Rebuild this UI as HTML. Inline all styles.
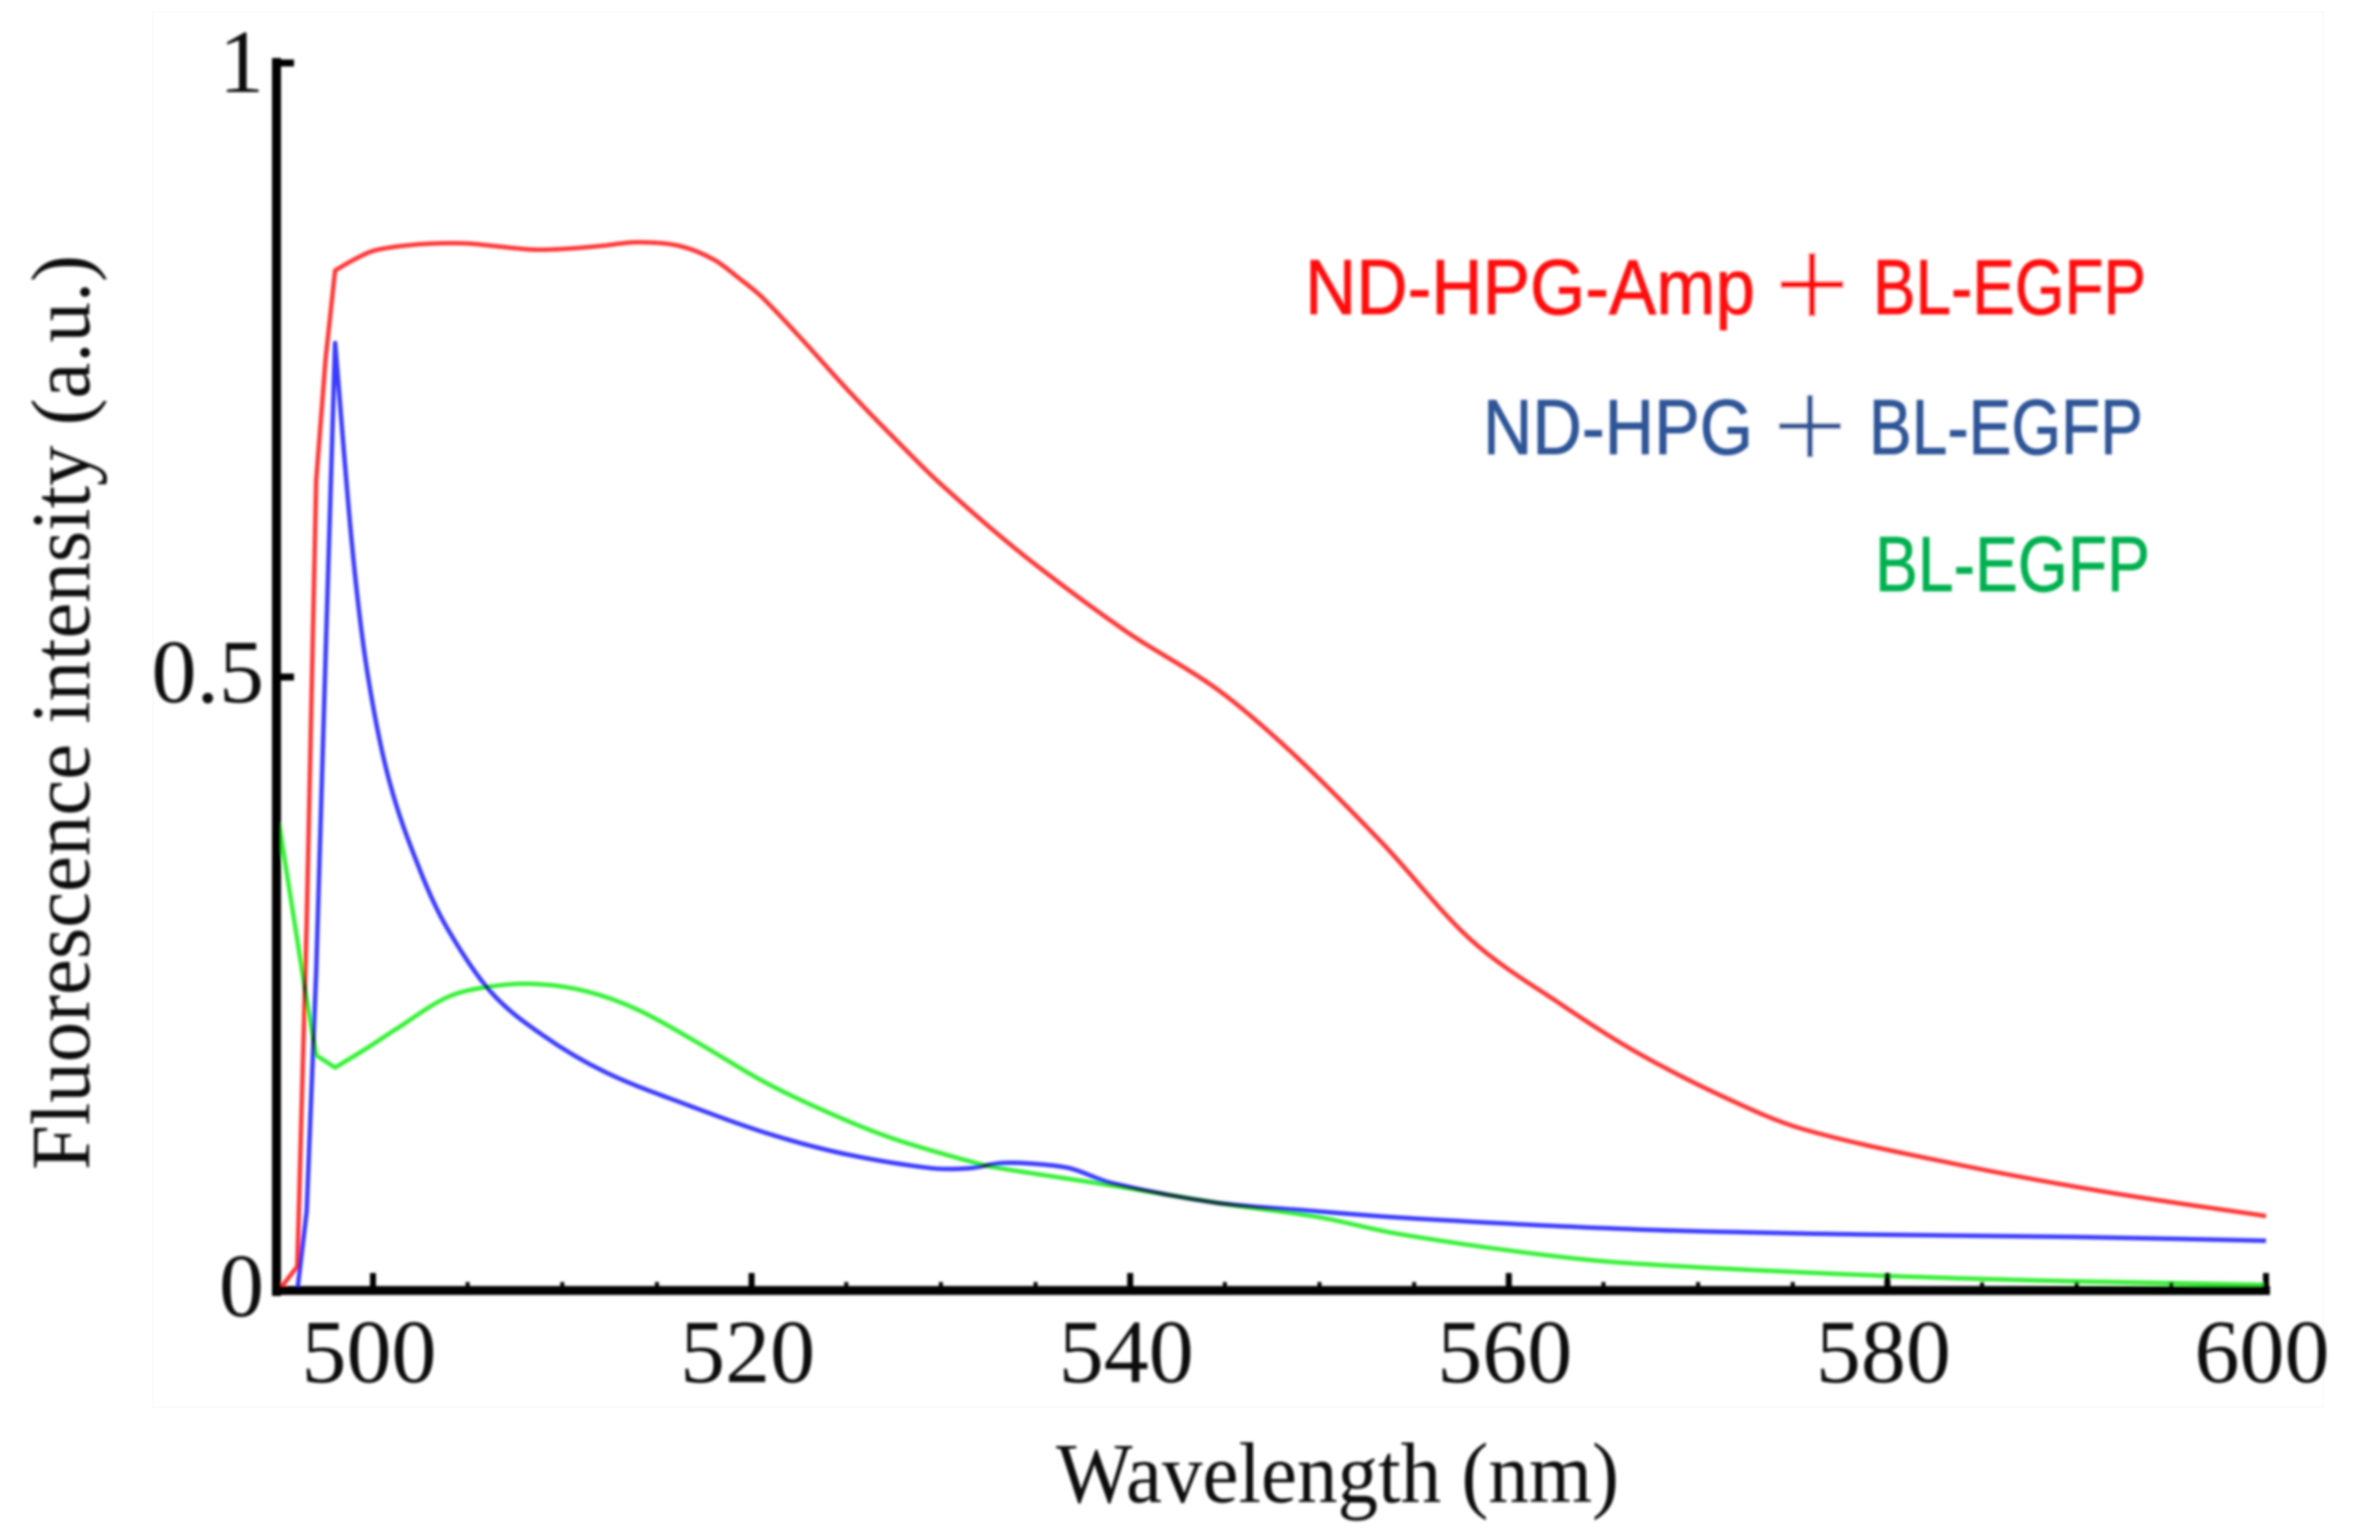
<!DOCTYPE html>
<html lang="en">
<head>
<meta charset="utf-8">
<title>Fluorescence intensity vs wavelength</title>
<style>
html,body{margin:0;padding:0;background:#fff;width:2355px;height:1531px;overflow:hidden}
svg{display:block}
.serif{font-family:"Liberation Serif",serif;fill:#111}
.leg{font-family:"Liberation Sans",sans-serif;font-size:78px;stroke-width:.8px}
.plus{font-family:"Liberation Sans",sans-serif;font-size:135px;stroke:#fff;paint-order:fill}
.curve{fill:none;stroke-width:4.5;stroke-linejoin:round;stroke-linecap:butt;mix-blend-mode:multiply}
</style>
</head>
<body>
<svg id="chart" xmlns="http://www.w3.org/2000/svg" width="2355" height="1531" viewBox="0 0 2355 1531">
<defs>
<filter id="soft" x="-2%" y="-2%" width="104%" height="104%"><feGaussianBlur stdDeviation="1.25"/></filter>
</defs>
<rect x="0" y="0" width="2355" height="1531" fill="#ffffff"/>
<rect x="153" y="12" width="2170" height="1395" fill="#ffffff" stroke="#fbfbfb" stroke-width="2"/>
<g id="plot" filter="url(#soft)">
<g id="axes"></g>
<g id="series"></g>
<text class="serif" font-size="86" x="1056" y="1502" textLength="563" lengthAdjust="spacingAndGlyphs">Wavelength (nm)</text>
<text class="serif" font-size="84" transform="translate(89 1170) rotate(-90)" x="0" y="0" textLength="915" lengthAdjust="spacingAndGlyphs">Fluorescence intensity (a.u.)</text>
<g>
<g fill="#ff1010" stroke="#ff1010">
<text class="leg" x="1305" y="314" textLength="450" lengthAdjust="spacingAndGlyphs">ND-HPG-Amp</text>
<text class="plus" x="1772.6" y="329.5" stroke-width="3" style="stroke-width:3px">+</text>
<text class="leg" x="1873" y="314" textLength="273" lengthAdjust="spacingAndGlyphs">BL-EGFP</text>
</g>
<g fill="#2f5597" stroke="#2f5597">
<text class="leg" x="1483" y="454" textLength="270" lengthAdjust="spacingAndGlyphs">ND-HPG</text>
<text class="plus" x="1770.6" y="471" style="stroke-width:4px">+</text>
<text class="leg" x="1869" y="454" textLength="274" lengthAdjust="spacingAndGlyphs">BL-EGFP</text>
</g>
<g fill="#00b050" stroke="#00b050">
<text class="leg" x="1875" y="591" textLength="275" lengthAdjust="spacingAndGlyphs">BL-EGFP</text>
</g>
</g>
</g>
<script>
var xMajorTicks = [500, 520, 540, 560, 580, 600];
var xMinorTicks = [505, 510, 515, 525, 530, 535, 545, 550, 555, 565, 570, 575, 585, 590, 595];
var yTicks = [0.5, 1];
var yTickLabels = ["0", "0.5", "1"];
var yLabelValues = [0, 0.5, 1];

var redWavelengths = [495, 495.5, 496, 496.5, 497, 497.5, 498, 499, 500, 501.5, 503.2, 505, 507, 508.6, 510.5, 512, 514, 516.2, 518, 519.4, 520.5, 522.6, 525, 527.5, 530, 534.3, 539.8, 544.6, 548.5, 553.3, 558, 562.8, 566.8, 571.5, 575.5, 583.4, 591.4, 600];
var redValues = [0, 0.01, 0.02, 0.3, 0.66, 0.76, 0.831, 0.84, 0.847, 0.851, 0.853, 0.853, 0.85, 0.848, 0.849, 0.851, 0.854, 0.851, 0.84, 0.824, 0.81, 0.776, 0.735, 0.695, 0.657, 0.6, 0.537, 0.49, 0.439, 0.365, 0.286, 0.233, 0.194, 0.157, 0.132, 0.104, 0.081, 0.061];

var blueWavelengths = [495.9, 496, 496.5, 497, 497.5, 498, 498.9, 499.7, 500.85, 502.5, 503.9, 506.2, 508.9, 512.3, 516.7, 520.7, 524.8, 529.5, 531.5, 533.1, 534.5, 536.8, 539, 544.5, 549, 555, 567, 578.8, 590, 600];
var blueValues = [0, 0, 0.065, 0.26, 0.52, 0.772, 0.606, 0.504, 0.416, 0.342, 0.296, 0.244, 0.209, 0.178, 0.151, 0.129, 0.112, 0.1, 0.1, 0.104, 0.104, 0.1, 0.088, 0.072, 0.066, 0.059, 0.05, 0.046, 0.044, 0.041];

var greenWavelengths = [495, 496.5, 497, 498, 499.5, 501.2, 503.9, 506.2, 508.6, 511.3, 514, 517.4, 520.7, 524.1, 527.5, 531.9, 533.1, 539, 544.5, 550, 554, 560.5, 566, 578.8, 589.7, 600];
var greenValues = [0.384, 0.237, 0.192, 0.182, 0.196, 0.213, 0.239, 0.248, 0.25, 0.244, 0.229, 0.2, 0.17, 0.145, 0.124, 0.104, 0.1, 0.086, 0.072, 0.06, 0.047, 0.032, 0.023, 0.013, 0.008, 0.005];

var SVGNS = "http://www.w3.org/2000/svg";
function scaleX(w) { return 373 + (w - 500) * 18.93; }
function scaleY(v) { return 1291 - v * 1228; }

function svgEl(tag, parent) {
  var el = document.createElementNS(SVGNS, tag);
  parent.appendChild(el);
  return el;
}
function drawLine(parent, x1, y1, x2, y2, width) {
  var l = svgEl("line", parent);
  l.setAttribute("x1", x1);
  l.setAttribute("y1", y1);
  l.setAttribute("x2", x2);
  l.setAttribute("y2", y2);
  l.setAttribute("stroke", "#000");
  l.setAttribute("stroke-width", width);
  return l;
}
function drawText(parent, x, y, anchor, str) {
  var t = svgEl("text", parent);
  t.setAttribute("class", "serif");
  t.setAttribute("font-size", "90");
  t.setAttribute("x", x);
  t.setAttribute("y", y);
  t.setAttribute("text-anchor", anchor);
  t.textContent = str;
  return t;
}
/* straight segments below the sharp spectral-cutoff, smooth cubic segments above it */
function drawCurve(parent, xs, ys, color, sharpUntil) {
  var p = svgEl("path", parent);
  var px = xs.map(scaleX);
  var py = ys.map(scaleY);
  var slope = function (i) {
    if (i === 0 || i === px.length - 1) {
      var a = i === 0 ? 0 : i - 1;
      return (py[a + 1] - py[a]) / (px[a + 1] - px[a]);
    }
    return (py[i + 1] - py[i - 1]) / (px[i + 1] - px[i - 1]);
  };
  var d = "M" + px[0].toFixed(1) + " " + py[0].toFixed(1);
  for (var i = 0; i < px.length - 1; i++) {
    if (xs[i] < sharpUntil) {
      d += "L" + px[i + 1].toFixed(1) + " " + py[i + 1].toFixed(1);
    } else {
      var dx = (px[i + 1] - px[i]) / 3;
      var m0 = xs[i] === sharpUntil ? (py[i + 1] - py[i]) / (px[i + 1] - px[i]) : slope(i);
      var m1 = slope(i + 1);
      d += "C" + (px[i] + dx).toFixed(1) + " " + (py[i] + m0 * dx).toFixed(1) + " " +
        (px[i + 1] - dx).toFixed(1) + " " + (py[i + 1] - m1 * dx).toFixed(1) + " " +
        px[i + 1].toFixed(1) + " " + py[i + 1].toFixed(1);
    }
  }
  p.setAttribute("d", d);
  p.setAttribute("class", "curve");
  p.setAttribute("stroke", color);
  return p;
}

var axes = document.getElementById("axes");
var series = document.getElementById("series");

var yAxis = drawLine(axes, 276.5, scaleY(1) - 5, 276.5, 1296, 9);


var xAxis = drawLine(axes, 272, 1290.5, 2270, 1290.5, 9);



xMajorTicks.forEach(function (w) {
  var t = drawLine(axes, scaleX(w), 1291, scaleX(w), 1273, 6);
  
  
  var lab = drawText(axes, scaleX(w) - 4, 1382, "middle", String(w));
  
  
});
xMinorTicks.forEach(function (w) {
  var t = drawLine(axes, scaleX(w), 1291, scaleX(w), 1282, 4);
  
  
});
yTicks.forEach(function (v) {
  var t = drawLine(axes, 276, scaleY(v), 294, scaleY(v), 7);
  
  
});
yLabelValues.forEach(function (v, i) {
  var lab = drawText(axes, 264, scaleY(v) + (v === 1 ? 29 : 25), "end", yTickLabels[i]);
  
  
});

var greenCurve = drawCurve(series, greenWavelengths, greenValues, "#38f038", 498);


var redCurve = drawCurve(series, redWavelengths, redValues, "#ff3838", 498);


var blueCurve = drawCurve(series, blueWavelengths, blueValues, "#3a3aff", 498);


</script>
</svg>
</body>
</html>
